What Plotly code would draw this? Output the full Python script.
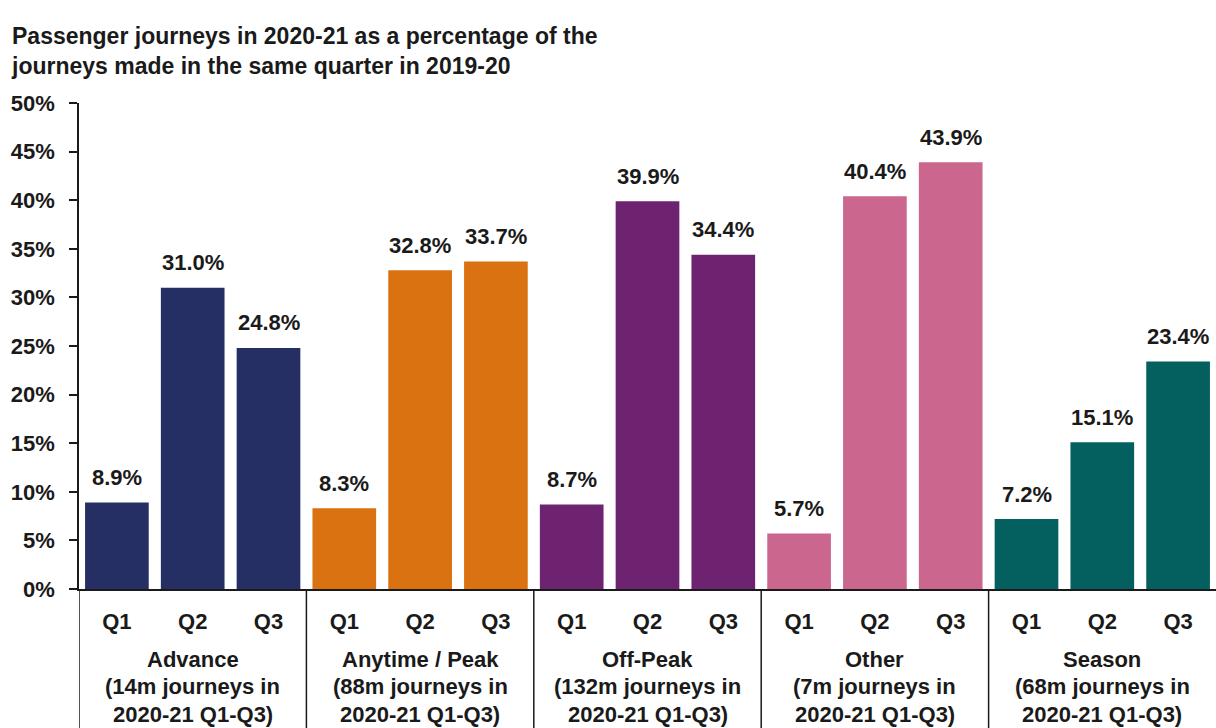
import plotly.graph_objects as go

groups = ["Advance", "Anytime / Peak", "Off-Peak", "Other", "Season"]
group_notes = ["(14m journeys in", "(88m journeys in", "(132m journeys in", "(7m journeys in", "(68m journeys in"]
group_period = "2020-21 Q1-Q3)"
quarters = ["Q1", "Q2", "Q3"]
advance = [8.9, 31.0, 24.8]
anytime_peak = [8.3, 32.8, 33.7]
off_peak = [8.7, 39.9, 34.4]
other = [5.7, 40.4, 43.9]
season = [7.2, 15.1, 23.4]
series_values = [advance, anytime_peak, off_peak, other, season]
colors = ["#262F63", "#DB7212", "#6D2370", "#CB668E", "#04605F"]
y_ticks = [0, 5, 10, 15, 20, 25, 30, 35, 40, 45, 50]

FONT = "Liberation Sans, Arial, sans-serif"
FS = 22

W, H = 1216, 728
ML, MR, MT, MB = 79, 0, 103, 139
plot_h = H - MT - MB

fig = go.Figure()
all_cats, all_text = [], []
annotations = []
for gi, (g, vals, col) in enumerate(zip(groups, series_values, colors)):
    cats = [f"{g}|{q}" for q in quarters]
    all_cats += cats
    all_text += quarters
    fig.add_trace(go.Bar(
        x=cats, y=vals, marker=dict(color=col, line=dict(width=0)),
        name=g, showlegend=False, hoverinfo="x+y",
    ))
    for c, v in zip(cats, vals):
        annotations.append(dict(
            x=c, y=v, xref="x", yref="y", text=f"<b>{v:.1f}%</b>",
            showarrow=False, yanchor="middle", yshift=25,
            font=dict(family=FONT, size=FS, color="#1a1a1a"),
        ))
    # group labels below the axis
    mid = cats[1]
    for li, line in enumerate([g, group_notes[gi], group_period]):
        ypix = 659 + 27.5 * li
        annotations.append(dict(
            x=mid, xref="x", y=(MT + plot_h - ypix) / plot_h, yref="paper",
            text=f"<b>{line}</b>", showarrow=False, yanchor="middle",
            font=dict(family=FONT, size=FS, color="#1a1a1a"),
        ))

shapes = []
bottom = -MB / plot_h
for k in range(len(groups)):
    shapes.append(dict(type="line", xref="x", yref="paper",
                       x0=3 * k - 0.5, x1=3 * k - 0.5, y0=0, y1=bottom,
                       line=dict(color="#1a1a1a", width=1.5)))

fig.update_layout(
    width=W, height=H,
    margin=dict(l=ML, r=MR, t=MT, b=MB),
    paper_bgcolor="white", plot_bgcolor="white",
    bargap=0.16,
    title=dict(
        text="<b>Passenger journeys in 2020-21 as a percentage of the<br>journeys made in the same quarter in 2019-20</b>",
        x=12 / W, xanchor="left", xref="container", y=1 - 44 / H, yanchor="middle", yref="container",
        font=dict(family=FONT, size=23, color="#1a1a1a"),
    ),
    font=dict(family=FONT, size=FS, color="#1a1a1a"),
    annotations=annotations,
    shapes=shapes,
)
fig.update_xaxes(
    type="category", categoryorder="array", categoryarray=all_cats,
    tickmode="array", tickvals=all_cats, ticktext=[f"<b>{t}</b>" for t in all_text],
    showline=True, linecolor="#1a1a1a", linewidth=1.5, ticks="",
    ticklabelstandoff=12, showgrid=False, zeroline=False,
    tickfont=dict(family=FONT, size=FS, color="#1a1a1a"),
    range=[-0.5, 14.5],
)
fig.update_yaxes(
    range=[0, 50], tickmode="array", tickvals=y_ticks,
    ticktext=[f"<b>{t}%</b>" for t in y_ticks],
    showline=True, linecolor="#1a1a1a", linewidth=1.5,
    ticks="outside", ticklen=8, tickcolor="#1a1a1a", tickwidth=1.5,
    ticklabelstandoff=10, showgrid=False, zeroline=False,
    tickfont=dict(family=FONT, size=FS, color="#1a1a1a"),
)

fig.write_html("out.html")
